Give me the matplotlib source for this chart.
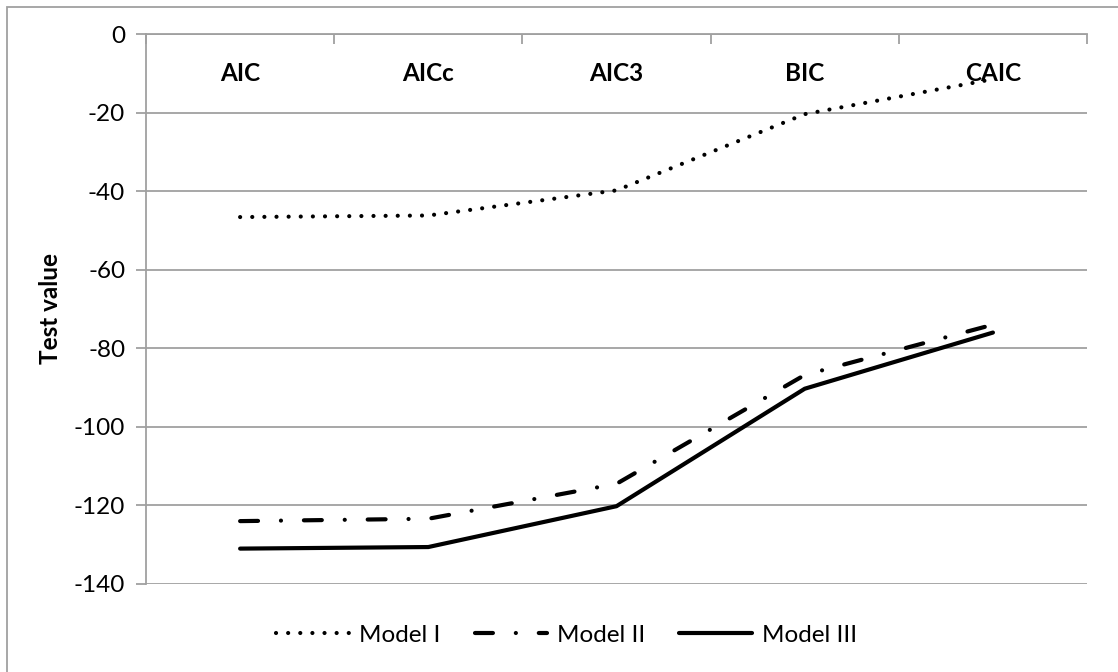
import matplotlib.pyplot as plt
from matplotlib.patches import Rectangle

plt.rcParams['font.family'] = ['Lato', 'DejaVu Sans']
plt.rcParams['axes.unicode_minus'] = False

criteria = ["AIC", "AICc", "AIC3", "BIC", "CAIC"]
model_1 = [-46.6, -46.2, -39.8, -20.4, -11.5]
model_2 = [-124.0, -123.4, -114.5, -86.8, -74.0]
model_3 = [-131.0, -130.6, -120.2, -90.3, -76.0]
y_ticks = [0, -20, -40, -60, -80, -100, -120, -140]

fig = plt.figure(figsize=(11.18, 6.72), dpi=100)
ax = fig.add_axes([0.1306, 0.131, 0.8417, 0.8184])

x = list(range(len(criteria)))
grey = '#a0a0a0'
fs = 17.5

ax.plot(x, model_1, color='black', lw=3, linestyle=(0, (0.01, 2.9)),
        dash_capstyle='round', label='Model I')
ax.plot(x, model_2, color='black', lw=3,
        linestyle=(0, (4.3, 5.5, 0.01, 5.5)),
        dash_capstyle='round', label='Model II')
ax.plot(x, model_3, color='black', lw=3, solid_capstyle='round',
        label='Model III')

ax.set_xlim(-0.5, len(criteria) - 0.5)
ax.set_ylim(-140, 0)
ax.set_yticks(y_ticks)
ax.yaxis.grid(True, color=grey, lw=1.3)
ax.set_axisbelow(True)

# category axis sits at y = 0, labels drawn just under it
ax.xaxis.set_ticks_position('top')
ax.set_xticks([i + 0.5 for i in range(-1, len(criteria))])
ax.set_xticklabels([])
ax.set_xticks(x, minor=True)
ax.set_xticklabels(criteria, minor=True, fontsize=fs, fontweight='bold')
ax.tick_params(axis='x', which='major', direction='in', length=7,
               width=1.3, color=grey)
ax.tick_params(axis='x', which='minor', length=0, pad=-37)

ax.tick_params(axis='y', length=7, width=1.3, color=grey, labelsize=fs,
               pad=8)
for side in ['right', 'bottom']:
    ax.spines[side].set_visible(False)
for side in ['left', 'top']:
    ax.spines[side].set_color(grey)
    ax.spines[side].set_linewidth(1.3)

ax.set_ylabel("Test value", fontsize=fs, fontweight='bold')
ax.yaxis.set_label_coords(-0.089, 0.5)

fig.legend(loc='center', bbox_to_anchor=(0.507, 0.055), ncol=3,
           frameon=False, fontsize=fs, handlelength=3.0,
           columnspacing=1.4, handletextpad=0.4)

fig.patches.append(Rectangle((7 / 1118, -0.1), 1.2, 1 - 7 / 672 + 0.1,
                             transform=fig.transFigure, fill=False,
                             edgecolor=grey, lw=1.3))

fig.savefig('out.png', dpi=100)
